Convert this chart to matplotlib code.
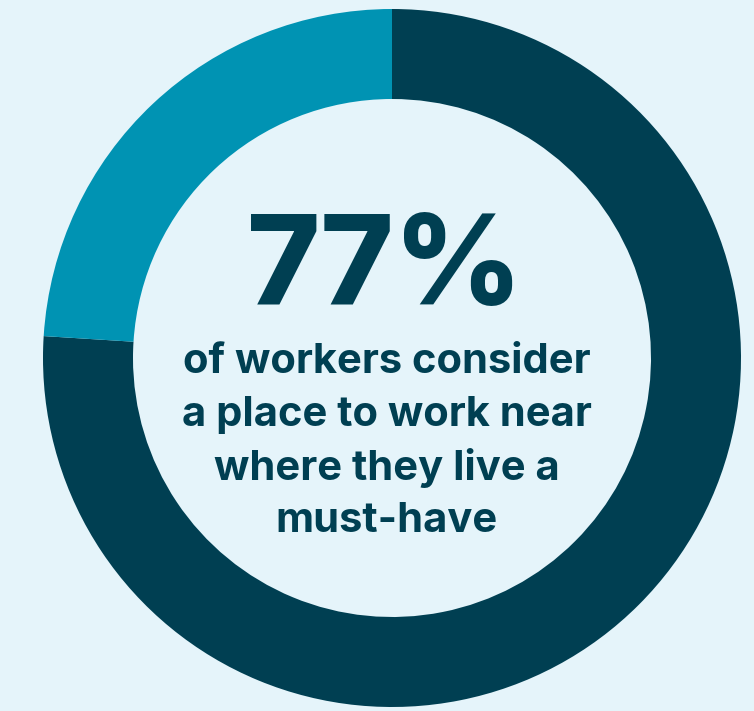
import matplotlib.pyplot as plt

# 데이터 (그림에서 읽은 조각 비율: 어두운 부분이 두 조각으로 나뉨)
labels = ["Must-have (a)", "Must-have (b)", "Other"]
shares = [75, 1, 24]
headline = "77%"
caption = ["of workers consider", "a place to work near", "where they live a", "must-have"]

BG = "#E5F4FA"
DARK = "#003F52"
LIGHT = "#0093B3"

plt.rcParams["font.family"] = ["Inter", "DejaVu Sans"]

fig = plt.figure(figsize=(7.54, 7.11), dpi=100, facecolor=BG)
ax = fig.add_axes([0, 0, 1, 1])
ax.set_facecolor(BG)

# 도넛 차트 (픽셀 좌표계, y축 반전 -> 각도 방향도 반전)
cx, cy, r = 392, 358, 349
ax.pie(
    shares,
    colors=[DARK, DARK, LIGHT],
    startangle=-90,
    counterclock=True,
    radius=r,
    center=(cx, cy),
    wedgeprops={"width": 90, "edgecolor": "none", "linewidth": 0},
    frame=True,
)

ax.set_xlim(0, 754)
ax.set_ylim(711, 0)
ax.set_aspect("equal")
ax.axis("off")

# 중앙 텍스트
ax.text(385, 271, headline, ha="center", va="center", fontsize=90,
        fontweight="heavy", color=DARK)
for i, line in enumerate(caption):
    ax.text(387, 362 + i * 53, line, ha="center", va="center", fontsize=30,
            fontweight="bold", color=DARK)

fig.savefig("out.png", dpi=100, facecolor=BG)
